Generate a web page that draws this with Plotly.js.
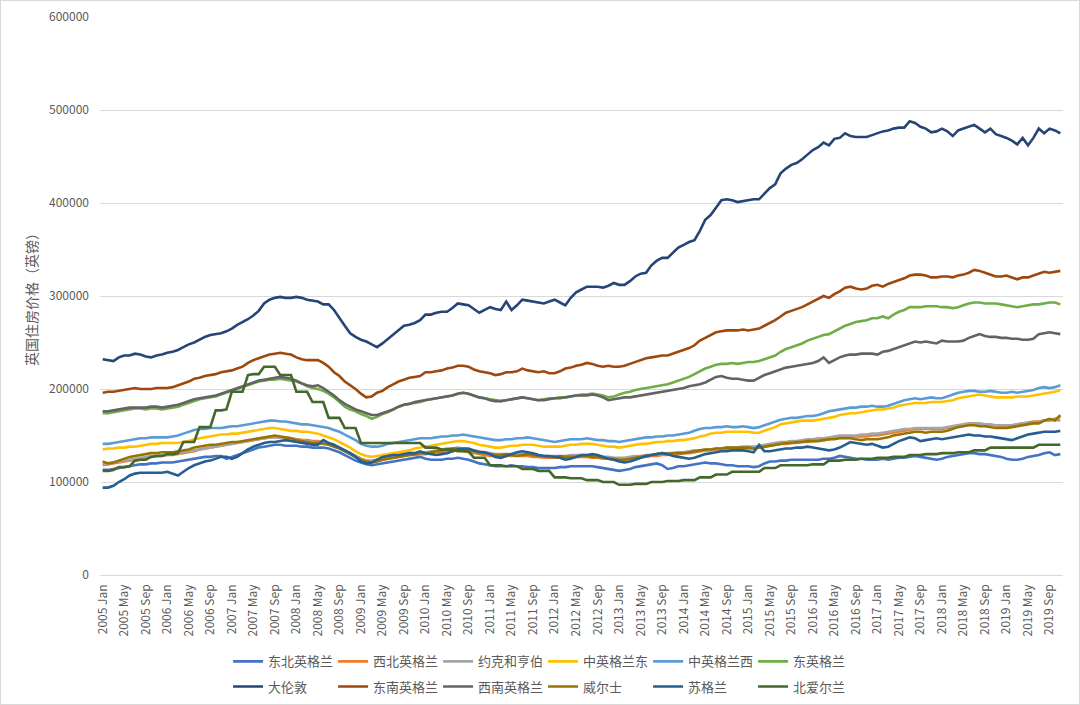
<!DOCTYPE html>
<html>
<head>
<meta charset="utf-8">
<script src="https://cdn.plot.ly/plotly-3.0.1.min.js"></script>
<style>
  html, body { margin: 0; padding: 0; background: #fff; }
  #wrap { position: relative; width: 1080px; height: 705px; }
  #chart { width: 1080px; height: 705px; }
  #frame { position: absolute; left: 0; top: 0; width: 1078px; height: 703px; border: 1px solid #d9d9d9; pointer-events: none; }
</style>
</head>
<body>
<div id="wrap"><div id="chart"></div><div id="frame"></div></div>
<script>
// Category labels
const years = [2005,2006,2007,2008,2009,2010,2011,2012,2013,2014,2015,2016,2017,2018,2019];
const monthNames = ["Jan","Feb","Mar","Apr","May","Jun","Jul","Aug","Sep","Oct","Nov","Dec"];
const lastMonthCount = 11; // data ends 2019 Nov

// Series names (legend order)
const seriesNames = ["东北英格兰","西北英格兰","约克和亨伯","中英格兰东","中英格兰西","东英格兰",
                     "大伦敦","东南英格兰","西南英格兰","威尔士","苏格兰","北爱尔兰"];
const seriesColors = ["#4472C4","#ED7D31","#A5A5A5","#FFC000","#5B9BD5","#70AD47",
                      "#264478","#9E480E","#636363","#997300","#255E91","#43682B"];

// Values in thousands of pounds, monthly 2005 Jan - 2019 Nov
const northEast = [113,113,114,115,116,117,118,119,119,120,120,121,
121,121,122,123,124,125,126,127,127,128,128,125,
127,129,131,133,135,137,138,139,140,140,139,139,
139,138,138,137,137,137,136,134,132,129,126,123,
121,119,118,119,120,121,122,123,124,125,126,127,
125,124,124,124,125,125,126,125,124,122,120,119,
118,117,117,117,118,117,117,116,116,115,115,115,
115,116,116,117,117,117,117,117,116,115,114,113,
112,113,114,116,117,118,119,120,118,114,115,117,
117,118,119,120,121,120,120,119,118,118,117,117,
117,116,117,120,122,122,123,123,124,124,124,124,
124,124,125,125,126,128,127,126,125,125,124,124,
124,125,124,125,126,126,127,128,127,126,125,124,
125,127,128,129,130,131,131,130,130,129,128,127,
125,124,124,125,127,128,129,131,132,129,130];

const northWest = [118,119,120,121,122,123,124,125,126,127,128,128,
129,129,130,131,132,133,135,136,137,138,139,140,
141,142,143,144,145,146,147,148,148,148,148,147,
146,145,145,144,144,143,141,139,137,134,131,128,
125,123,122,123,124,125,126,127,128,129,129,130,
130,131,132,132,133,133,134,133,132,131,130,129,
128,128,127,128,128,128,128,128,127,127,126,126,
126,126,126,126,127,127,127,126,126,125,125,124,
124,124,125,126,127,127,128,128,129,129,130,130,
131,131,132,133,134,134,135,135,135,136,136,136,
136,136,137,138,139,140,141,141,142,142,143,143,
144,145,145,146,147,148,148,149,149,149,149,150,
150,151,152,153,154,155,156,157,157,157,157,157,
157,158,159,160,161,162,162,162,162,161,161,160,
160,161,162,163,164,165,165,166,167,168,170];

const yorkshire = [119,120,121,122,123,124,125,126,127,128,128,129,
129,130,131,132,133,134,135,136,137,138,139,140,
141,142,143,144,145,146,147,148,148,148,147,146,
145,145,144,143,143,142,141,139,137,134,131,128,
125,123,123,124,125,126,127,128,129,130,131,131,
132,133,134,135,136,136,137,136,135,134,133,132,
131,130,130,130,130,130,130,130,129,129,128,128,
128,128,128,129,129,129,129,128,128,127,127,126,
126,126,127,128,128,129,129,130,130,131,131,132,
132,133,134,134,135,135,136,136,137,137,137,138,
138,138,139,140,141,142,143,143,144,144,145,146,
146,147,147,148,149,150,150,150,150,151,151,152,
152,153,154,155,156,157,157,158,158,158,158,158,
158,159,160,161,162,163,163,163,162,162,161,161,
161,161,162,163,163,164,165,166,166,167,166];

const eastMidlands = [135,136,136,137,137,138,138,139,140,141,141,142,
142,142,142,143,144,146,147,148,149,150,151,151,
152,152,153,154,155,156,157,158,158,157,156,155,
155,154,154,153,152,150,148,146,143,140,137,133,
130,128,127,128,129,130,131,132,133,134,136,137,
138,139,140,141,142,143,144,144,143,142,140,139,
138,137,137,138,139,139,140,140,140,139,138,138,
138,138,139,140,140,141,141,141,140,139,138,138,
137,138,139,140,141,141,142,143,143,144,144,145,
145,146,147,149,150,152,153,153,154,154,154,154,
154,153,153,155,157,159,162,163,164,165,166,166,
166,167,168,169,170,172,173,174,174,175,176,177,
178,178,179,180,182,183,184,185,185,185,186,186,
186,187,188,190,191,192,193,194,193,192,191,191,
191,191,192,192,192,193,194,195,196,197,199];

const westMidlands = [141,141,142,143,144,145,146,147,147,148,148,148,
148,149,150,152,154,156,157,157,158,158,158,159,
160,160,161,162,163,164,165,166,166,165,165,164,
163,162,162,161,160,159,158,156,154,151,148,145,
141,139,138,138,139,141,142,143,144,145,146,147,
147,147,148,149,149,150,150,151,150,149,148,147,
146,145,145,146,146,147,147,148,147,146,145,144,
143,144,145,146,146,146,147,146,145,145,144,144,
143,144,145,146,147,148,148,149,149,150,150,151,
152,153,155,157,158,158,159,159,160,159,159,160,
159,158,159,161,163,165,167,168,169,169,170,171,
171,172,174,176,177,178,179,180,180,181,181,182,
181,181,182,184,186,188,189,190,189,190,191,190,
190,192,194,196,197,198,198,197,197,198,197,196,
196,197,196,197,198,199,201,202,201,202,204];

const eastEngland = [174,174,175,176,177,178,179,179,178,179,179,178,
179,180,181,183,185,187,189,190,191,192,194,196,
198,200,202,204,206,208,209,210,210,211,210,209,
208,206,203,201,200,198,195,191,186,181,178,176,
173,171,168,170,173,175,178,181,183,184,185,186,
188,189,190,191,192,193,195,196,195,193,191,190,
189,188,187,188,189,190,191,190,189,188,189,190,
190,191,191,192,193,194,194,195,194,193,191,192,
194,196,197,199,200,201,202,203,204,205,207,209,
211,213,216,219,222,224,226,227,227,228,227,228,
229,229,230,232,234,236,240,243,245,247,249,252,
254,256,258,259,262,265,268,270,272,273,274,276,
276,278,276,280,283,285,288,288,288,289,289,289,
288,288,287,288,290,292,293,293,292,292,292,291,
290,289,288,289,290,291,291,292,293,293,291];

const london = [232,231,230,234,236,236,238,237,235,234,236,237,
239,240,242,245,248,250,253,256,258,259,260,262,
265,269,272,275,279,284,292,296,298,299,298,298,
299,298,296,295,294,291,291,285,276,268,260,256,
253,251,248,245,249,254,259,263,268,269,271,274,
280,280,282,283,283,287,292,291,290,286,282,285,
288,286,285,294,285,290,296,295,294,293,292,294,
296,293,290,298,304,307,310,310,310,309,311,314,
312,312,316,321,324,325,333,338,341,341,346,352,
355,358,360,370,382,387,395,403,404,403,401,402,
403,404,404,410,416,420,432,437,441,443,447,452,
457,460,465,462,469,470,475,472,471,471,471,473,
475,477,478,480,481,481,488,486,482,480,476,477,
480,477,472,478,480,482,484,480,476,480,474,472,
470,467,463,470,462,470,480,475,480,478,475];

const southEast = [196,197,197,198,199,200,201,200,200,200,201,201,
201,202,204,206,208,211,212,214,215,216,218,219,
220,222,224,228,231,233,235,237,238,239,238,237,
234,232,231,231,231,228,224,218,214,208,204,200,
195,191,192,196,198,202,205,208,210,212,213,214,
218,218,219,220,222,223,225,225,224,221,219,218,
217,215,216,218,218,219,222,220,219,218,219,217,
217,219,222,223,225,226,228,227,225,224,225,224,
224,225,227,229,231,233,234,235,236,236,238,240,
242,244,247,252,255,258,261,262,263,263,263,264,
263,264,265,268,271,274,278,282,284,286,288,291,
294,297,300,298,302,305,309,310,308,307,308,311,
312,310,313,315,317,319,322,323,323,322,320,320,
321,321,320,322,323,325,328,327,325,323,321,321,
322,320,318,320,320,322,324,326,325,326,327];

const southWest = [176,176,177,178,179,180,180,180,180,181,181,180,
181,182,183,185,187,189,190,191,192,193,195,197,
199,201,203,205,207,209,210,211,212,213,212,211,
209,206,204,203,204,201,197,193,188,184,181,178,
176,174,172,172,174,176,178,181,183,184,186,187,
188,189,190,191,192,193,195,196,195,193,191,190,
188,187,187,188,189,190,191,190,189,188,188,189,
190,190,191,192,193,193,193,194,193,191,188,189,
190,191,191,192,193,194,195,196,197,198,199,200,
201,203,204,205,207,210,213,214,212,211,211,210,
209,209,212,215,217,219,221,223,224,225,226,227,
228,230,234,228,231,234,236,237,237,238,238,238,
237,240,241,243,245,247,249,251,250,251,250,249,
252,251,251,251,252,255,257,259,257,256,256,255,
255,254,254,253,253,254,259,260,261,260,259];

const wales = [122,120,121,123,125,127,128,129,130,131,131,132,
132,132,133,134,135,137,138,139,140,140,141,142,
143,143,144,145,146,147,148,149,150,149,148,147,
145,144,143,142,142,141,140,138,136,133,130,127,
124,122,121,122,124,125,126,127,128,129,130,131,
131,132,133,134,135,136,136,135,134,133,132,131,
130,129,129,130,129,128,129,130,129,128,128,127,
127,128,127,127,127,128,128,127,127,126,125,125,
124,124,125,126,127,128,129,130,131,130,131,131,
131,132,133,134,135,135,136,136,137,137,137,137,
137,136,137,138,139,140,141,142,142,143,143,144,
144,144,145,146,146,147,147,147,146,145,146,146,
146,147,148,150,151,152,153,154,154,153,154,154,
154,155,157,159,160,161,161,160,160,159,158,158,
158,159,160,161,162,163,163,166,168,166,172];

const scotland = [94,94,96,100,103,107,109,110,110,110,110,110,
111,109,107,111,115,118,120,122,123,125,127,127,
125,127,131,135,138,140,142,143,143,144,145,144,
143,142,141,140,140,145,142,140,137,134,131,127,
122,120,121,124,127,128,129,129,130,131,131,133,
131,130,129,130,131,133,135,136,136,134,132,132,
130,127,126,128,130,132,133,132,131,129,128,128,
127,126,124,125,127,129,129,130,129,127,125,124,
122,121,122,124,126,128,129,130,131,130,128,127,
126,125,126,128,130,131,132,133,133,134,134,134,
133,132,140,133,133,134,135,136,136,137,137,138,
137,136,135,134,135,137,140,143,142,141,140,141,
139,137,138,141,144,146,148,147,144,145,146,147,
146,147,148,149,150,151,150,150,149,149,148,147,
146,145,147,149,151,152,153,154,154,154,155];

const northernIreland = [112,112,113,116,116,117,123,124,124,127,128,128,
130,130,131,143,143,143,159,159,159,177,177,178,
197,197,197,215,216,216,224,224,224,215,215,215,
197,197,197,186,186,186,169,169,169,158,158,158,
142,142,142,142,142,142,142,142,142,142,142,142,
137,137,137,135,135,135,133,133,133,126,126,126,
118,118,118,117,117,117,114,114,114,112,112,112,
105,105,105,104,104,104,102,102,102,100,100,100,
97,97,97,98,98,98,100,100,100,101,101,101,
102,102,102,105,105,105,108,108,108,111,111,111,
111,111,111,115,115,115,118,118,118,118,118,118,
119,119,119,123,123,123,124,124,124,125,125,125,
126,126,126,127,127,127,129,129,129,130,130,130,
131,131,131,132,132,132,134,134,134,137,137,137,
137,137,137,137,137,137,140,140,140,140,140];

const seriesData = [northEast, northWest, yorkshire, eastMidlands, westMidlands, eastEngland,
                    london, southEast, southWest, wales, scotland, northernIreland];

// Build categories
const categories = [];
years.forEach((y, yi) => {
  const n = (yi === years.length - 1) ? lastMonthCount : 12;
  for (let m = 0; m < n; m++) categories.push(y + " " + monthNames[m]);
});
const tickCats = categories.filter((c, i) => i % 4 === 0);

const font = '"Noto Sans CJK SC", "Noto Sans", sans-serif';
const grey = '#595959';

const traces = seriesData.map((arr, k) => ({
  type: 'scatter',
  mode: 'lines',
  name: seriesNames[k],
  x: categories,
  y: arr.map(v => v * 1000),
  line: { color: seriesColors[k], width: 2.6, shape: 'linear' },
  legend: k < 6 ? 'legend' : 'legend2',
  hoverinfo: 'x+y+name'
}));

const legendCommon = {
  orientation: 'h',
  xanchor: 'left',
  yanchor: 'top',
  font: { family: font, size: 13, color: grey },
  entrywidth: 60,
  entrywidthmode: 'pixels',
  itemwidth: 30,
  bgcolor: 'rgba(0,0,0,0)',
  traceorder: 'normal'
};

const layout = {
  width: 1080,
  height: 705,
  margin: { l: 100, r: 17, t: 17, b: 130, autoexpand: false },
  paper_bgcolor: '#ffffff',
  plot_bgcolor: '#ffffff',
  font: { family: font, color: grey },
  showlegend: true,
  xaxis: {
    type: 'category',
    automargin: false,
    range: [-0.5, categories.length - 0.5],
    tickmode: 'array',
    tickvals: tickCats,
    ticktext: tickCats,
    tickangle: -90,
    tickfont: { family: font, size: 12, color: grey },
    showgrid: false,
    showline: false,
    zeroline: false,
    ticks: '',
    ticklabelstandoff: 6
  },
  yaxis: {
    automargin: false,
    range: [0, 600000],
    tickmode: 'array',
    tickvals: [0,100000,200000,300000,400000,500000,600000],
    ticktext: ['0','100000','200000','300000','400000','500000','600000'],
    tickfont: { family: font, size: 12, color: grey },
    showgrid: true,
    gridcolor: '#d9d9d9',
    gridwidth: 1,
    zeroline: true,
    zerolinecolor: '#d9d9d9',
    zerolinewidth: 1,
    showline: false,
    ticks: '',
    ticklabelstandoff: 10,
    title: { text: '英国住房价格（英镑）', font: { family: font, size: 14, color: grey }, standoff: 8 }
  },
  legend: Object.assign({}, legendCommon, { x: 0.133, y: -0.128 }),
  legend2: Object.assign({}, legendCommon, { x: 0.133, y: -0.173 })
};

Plotly.newPlot('chart', traces, layout, { displayModeBar: false, staticPlot: true });
</script>
</body>
</html>
